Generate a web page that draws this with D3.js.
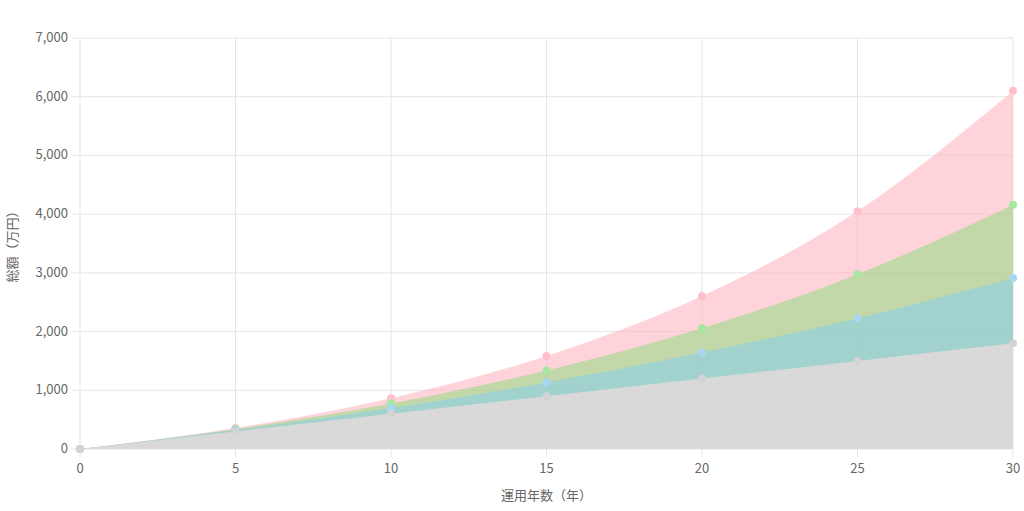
<!DOCTYPE html>
<html><head><meta charset="utf-8">
<script src="https://cdn.jsdelivr.net/npm/d3@7"></script>
<style>body{margin:0;background:#fff}svg{display:block}text{font-family:"Noto Sans CJK JP","Noto Sans",sans-serif}</style>
</head><body><svg id="c" width="1024" height="511"></svg>
<script>
const years=[0,5,10,15,20,25,30];
const principal=[0,300,600,900,1200,1500,1800];
const rate3=[0,323,699,1135,1642,2225,2913];
const rate5=[0,340,776,1336,2055,2977,4161];
const rate7=[0,358,865,1585,2605,4050,6100];
const yTicks=[0,1000,2000,3000,4000,5000,6000,7000];
const series=[
 {v:rate7,fill:"rgba(255,182,193,0.6)",pt:"#ffc0cb"},
 {v:rate5,fill:"rgba(144,220,130,0.55)",pt:"#a6e8a0"},
 {v:rate3,fill:"rgba(135,206,235,0.55)",pt:"#a8d8f0"},
 {v:principal,fill:"rgba(217,217,217,1)",pt:"#d3d3d3"}];
const svg=d3.select("#c");
const L=80,R=1013,T=38,B=449;
const x=d3.scaleLinear().domain([0,30]).range([L,R]);
const y=d3.scaleLinear().domain([0,7000]).range([B,T]);
const g=svg.append("g");
yTicks.forEach(t=>g.append("line").attr("x1",L-8).attr("x2",R).attr("y1",y(t)).attr("y2",y(t)).attr("stroke","#e5e5e5"));
years.forEach(t=>g.append("line").attr("y1",T).attr("y2",B+8).attr("x1",x(t)).attr("x2",x(t)).attr("stroke","#e5e5e5"));
yTicks.forEach(t=>g.append("text").attr("x",L-12).attr("y",y(t)+4).attr("text-anchor","end").attr("font-size",13).attr("fill","#666").text(d3.format(",")(t)));
years.forEach(t=>g.append("text").attr("x",x(t)).attr("y",B+24).attr("text-anchor","middle").attr("font-size",13).attr("fill","#666").text(t));
const area=d3.area().x((d,i)=>x(years[i])).y0(y(0)).y1(d=>y(d)).curve(d3.curveMonotoneX);
series.forEach(s=>{
 svg.append("path").attr("d",area(s.v)).attr("fill",s.fill);
});
series.forEach(s=>{
 svg.selectAll(null).data(s.v).enter().append("circle").attr("cx",(d,i)=>x(years[i])).attr("cy",d=>y(d)).attr("r",4).attr("fill",s.pt);
});
svg.append("text").attr("x",x(15)).attr("y",500).attr("text-anchor","middle").attr("font-size",13).attr("fill","#666").text("運用年数（年）");
svg.append("text").attr("transform",`translate(17,${(T+B)/2}) rotate(-90)`).attr("text-anchor","middle").attr("font-size",13).attr("fill","#666").text("総額（万円）");
</script></body></html>
